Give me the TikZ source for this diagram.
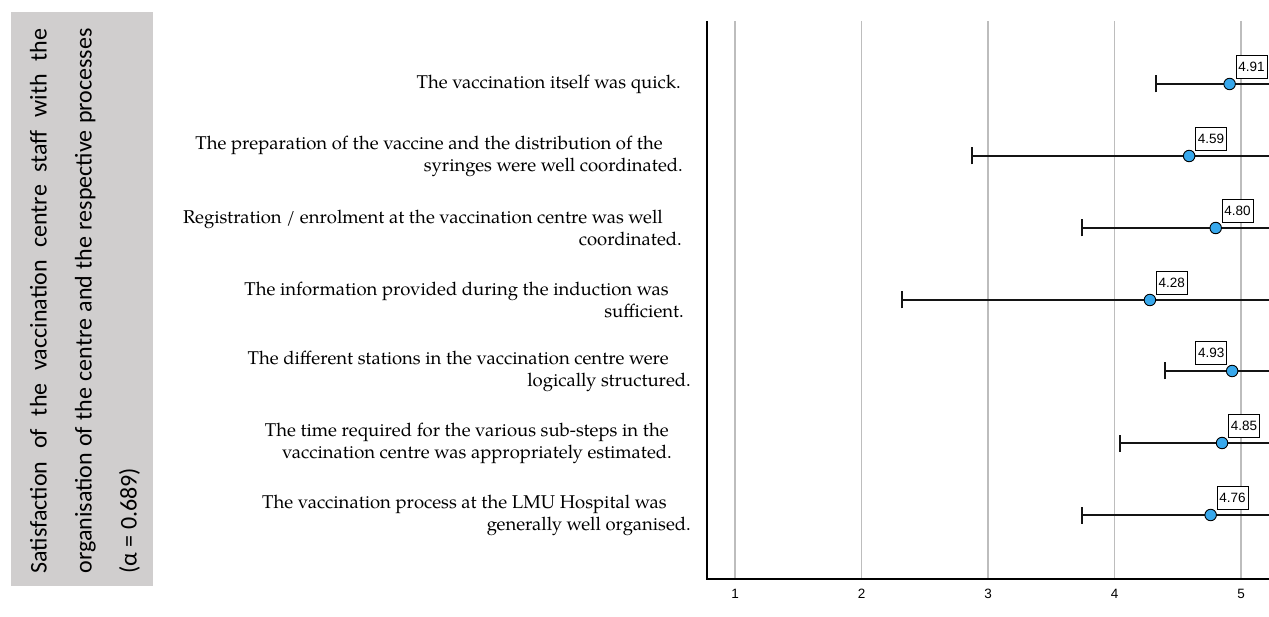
\documentclass[tikz,border=0pt]{standalone}
\usepackage{fontspec}
\setmainfont{TeX Gyre Pagella}
\newfontfamily\boxfont{Carlito}
\newfontfamily\arialfont{Liberation Sans}
\definecolor{boxgray}{HTML}{D0CECE}
\definecolor{dotblue}{RGB}{56,168,236}
\definecolor{gridgray}{HTML}{BDBDBD}
\definecolor{barblack}{HTML}{141414}
\setlength\parindent{0pt}
\begin{document}
\begin{tikzpicture}[x=1pt,y=-1pt,
  gridline/.style={draw=gridgray, line width=1.3pt},
  axisline/.style={draw=black, line width=1.2pt},
  bar/.style={draw=barblack, line width=2pt},
  dot/.style={circle, draw=black, line width=0.9pt, fill=dotblue, minimum size=11.5pt, inner sep=0pt},
  valbox/.style={draw=black, line width=0.9pt, fill=white, font=\arialfont\fontsize{13.5}{15}\selectfont, inner xsep=2.3pt, inner ysep=0pt, minimum height=23pt},
  itemlabel/.style={anchor=east, align=right, inner sep=0pt, font=\fontsize{18.5}{22}\selectfont},
  ticklabel/.style={font=\arialfont\fontsize{13.5}{15}\selectfont, inner sep=0pt},
]
\useasboundingbox (0,0) rectangle (1269,617);

% left grey panel
\fill[boxgray] (11,12) rectangle (153,586);
\node[rotate=90, text width=545pt, align=justify, inner sep=0pt,
      font=\boxfont\fontsize{24}{45}\selectfont] (title) at (85,301)
 {Satisfaction of the vaccination centre staff with the\linebreak organisation of the centre and the respective processes\linebreak (α = 0.689)};

% grid lines
\foreach \v in {1,...,5}{
  \pgfmathsetmacro\gx{735+(\v-1)*126.5}
  \draw[gridline] (\gx,21) -- (\gx,579);
  \node[ticklabel] (tick\v) at (\gx,594) {\v};
}
% axes
\coordinate (axtop) at (707,21);
\coordinate (axorigin) at (707,579);
\coordinate (axright) at (1269,579);
\draw[axisline] (axtop) -- (axorigin) -- (axright);

% data rows
\foreach \i/\ry/\v/\lo/\side in {1/84/4.91/1156/r, 2/156/4.59/972/r, 3/228/4.80/1082/r, 4/300/4.28/902/r, 5/371/4.93/1165/l, 6/443/4.85/1120/r, 7/515/4.76/1082/r}{
  \pgfmathsetmacro\px{735+(\v-1)*126.5}
  \coordinate (lo\i) at (\lo,\ry);
  \coordinate (hi\i) at (1269,\ry);
  \draw[bar] (lo\i) -- (hi\i);
  \draw[bar] ([yshift=-8.5pt]lo\i) -- ([yshift=8.5pt]lo\i);
  \node[dot] (dot\i) at (\px,\ry) {};
  \if\side r
    \node[valbox, anchor=south west] (val\i) at ([xshift=6pt,yshift=5pt]dot\i.center) {\v};
  \else
    \node[valbox, anchor=south east] (val\i) at ([xshift=-5pt,yshift=6pt]dot\i.center) {\v};
  \fi
}

% item labels
\node[itemlabel] (lab1) at (691,84) {The vaccination itself was quick.\hspace*{10pt}};
\node[itemlabel] (lab2) at (691,156) {The preparation of the vaccine and the distribution of the\hspace*{28pt}\\ syringes were well coordinated.\hspace*{8pt}};
\node[itemlabel] (lab3) at (691,228) {Registration / enrolment at the vaccination centre was well\hspace*{28pt}\\ coordinated.\hspace*{9pt}};
\node[itemlabel] (lab4) at (691,300) {The information provided during the induction was\hspace*{22pt}\\ sufficient.\hspace*{7pt}};
\node[itemlabel] (lab5) at (691,371) {The different stations in the vaccination centre were\hspace*{22pt}\\ logically structured.\hspace*{0pt}};
\node[itemlabel] (lab6) at (691,443) {The time required for the various sub-steps in the\hspace*{22pt}\\ vaccination centre was appropriately estimated.\hspace*{19pt}};
\node[itemlabel] (lab7) at (691,515) {The vaccination process at the LMU Hospital was\hspace*{24pt}\\ generally well organised.\hspace*{0pt}};
\end{tikzpicture}
\end{document}
